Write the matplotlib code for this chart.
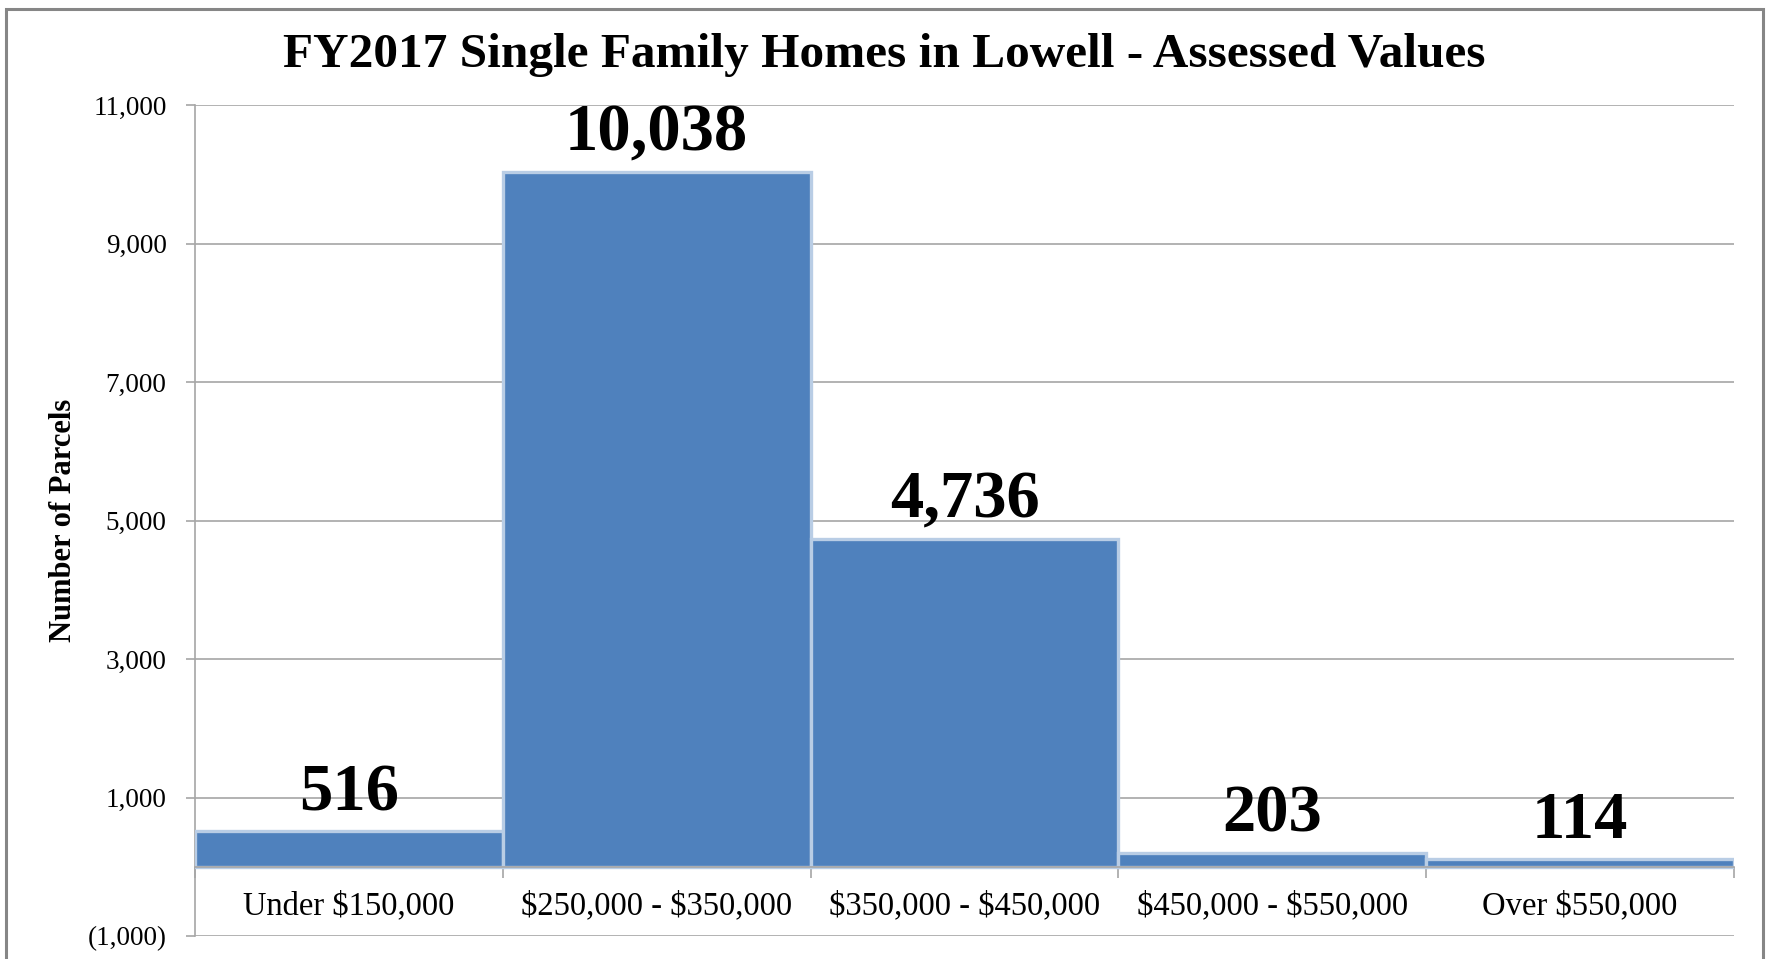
import matplotlib
matplotlib.use("Agg")
import matplotlib.pyplot as plt
from matplotlib.patches import Rectangle
from matplotlib.ticker import FuncFormatter

# FY2017 single family home counts by assessed value band
categories = ["Under $150,000", "$250,000 - $350,000", "$350,000 - $450,000",
              "$450,000 - $550,000", "Over $550,000"]
parcels = [516, 10038, 4736, 203, 114]
y_ticks = [-1000, 1000, 3000, 5000, 7000, 9000, 11000]

plt.rcParams['font.family'] = ['Liberation Serif', 'DejaVu Serif']
plt.rcParams['text.parse_math'] = False  # dollar signs are literal

fig = plt.figure(figsize=(17.69, 9.59), dpi=100)
ax = fig.add_axes([195 / 1769, 1 - 936 / 959, (1734 - 195) / 1769, (936 - 105) / 959])

# outer chart border (Excel style)
fig.patches.append(Rectangle((6 / 1769, -0.01), (1763 - 6) / 1769, 1.005 - 4 / 959,
                             transform=fig.transFigure, fill=False,
                             edgecolor="#868686", linewidth=2.2))

x = list(range(len(categories)))
bars = ax.bar(x, parcels, width=1.0, color="#4F81BD", edgecolor="#B9CDE5",
              linewidth=2.4, zorder=3)

for xi, v in zip(x, parcels):
    ax.annotate(f"{v:,}", (xi, v), xytext=(0, 15), textcoords="offset points",
                ha="center", va="baseline", fontsize=48, fontweight="bold")

ax.set_xlim(-0.5, len(categories) - 0.5)
ax.set_ylim(-1000, 11000)
ax.set_yticks(y_ticks)
ax.yaxis.set_major_formatter(FuncFormatter(
    lambda v, p: f"({abs(int(v)):,})" if v < 0 else f"{int(v):,}"))
ax.tick_params(axis="y", length=6.5, width=1.2, color="#A6A6A6", pad=14, labelsize=19.5)

ax.set_xticks(x)
ax.set_xticklabels(categories)
ax.set_xticks([i + 0.5 for i in x[:-1]] + [-0.5, len(categories) - 0.5], minor=True)
ax.tick_params(axis="x", which="major", length=0, pad=17, labelsize=23.5)
ax.tick_params(axis="x", which="minor", length=8, width=1.2, color="#A6A6A6")

ax.grid(axis="y", color="#A6A6A6", linewidth=1.2, zorder=0)
ax.set_axisbelow(True)

for s in ["top", "right"]:
    ax.spines[s].set_visible(False)
ax.spines["left"].set_color("#A6A6A6")
ax.spines["left"].set_linewidth(1.2)
ax.spines["bottom"].set_position(("data", 0))
ax.spines["bottom"].set_color("#A6A6A6")
ax.spines["bottom"].set_linewidth(1.2)
ax.spines["bottom"].set_zorder(4)

ax.set_ylabel("Number of Parcels", fontsize=22, fontweight="bold", labelpad=7)
fig.suptitle("FY2017 Single Family Homes in Lowell - Assessed Values",
             x=0.5, y=1 - 55 / 959, va="center", fontsize=35.5, fontweight="bold")

fig.savefig("out.png", dpi=100)
